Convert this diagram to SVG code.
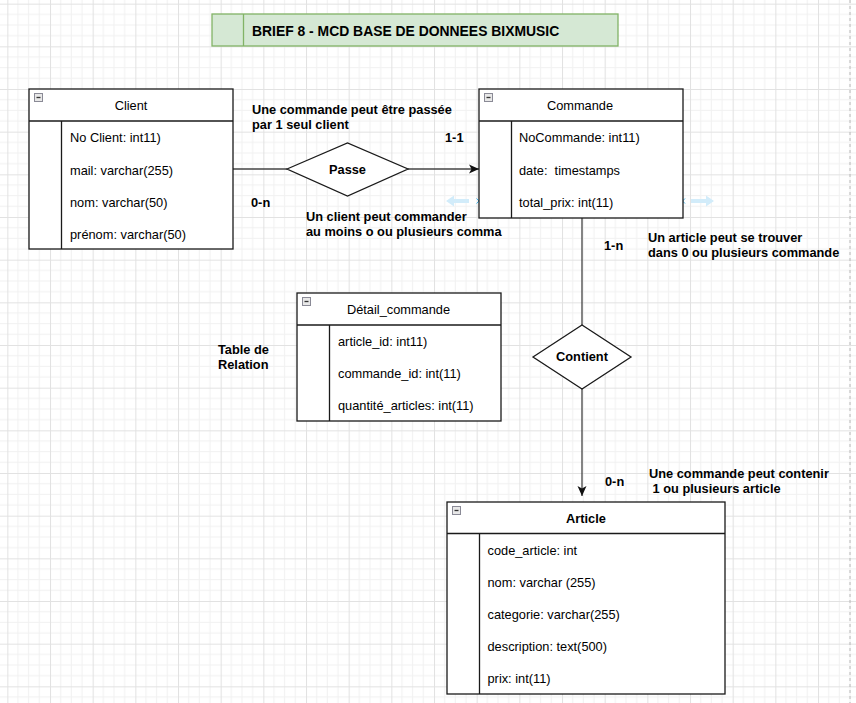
<svg xmlns="http://www.w3.org/2000/svg" width="856" height="703" viewBox="0 0 856 703">
<style>
text{font-family:"Liberation Sans",Arial,sans-serif;font-size:12.8px;fill:#000;white-space:pre}
.b{font-weight:bold}
.c{text-anchor:middle}
.t{font-size:13.9px;font-weight:bold}
.box{fill:#fff;stroke:#1a1a1a;stroke-width:1.3}
.ln{stroke:#1a1a1a;stroke-width:1.3;fill:none}
.con{stroke:#444;stroke-width:1.3;fill:none}
.ico{fill:#e8e8e8;stroke:#8a8a96;stroke-width:1}
.icm{stroke:#333;stroke-width:1.3}
.hint{fill:#d2ecfa}
.x{stroke:#3bb2e8;stroke-width:1}
</style>
<defs>
<pattern id="grid" patternUnits="userSpaceOnUse" x="7.33" y="3.67" width="42.667" height="42.667">
<rect width="42.667" height="42.667" fill="#fff"/>
<path d="M10.667 0V42.667M21.333 0V42.667M32 0V42.667M0 10.667H42.667M0 21.333H42.667M0 32H42.667" stroke="#f1f1f1" stroke-width="1"/>
<path d="M0.5 0V42.667M0 0.5H42.667" stroke="#e2e2e2" stroke-width="1"/>
</pattern>
<marker id="arr" markerUnits="userSpaceOnUse" markerWidth="11" markerHeight="10" refX="10" refY="5" orient="auto">
<path d="M0,0.5 L10,5 L0,9.5 L2.5,5 Z" fill="#111"/>
</marker>
</defs>
<rect width="856" height="703" fill="url(#grid)"/>
<line x1="850" y1="0" x2="850" y2="703" stroke="#b8b8b8" stroke-width="1" stroke-dasharray="3,3"/>

<g id="title">
<rect x="212" y="14" width="406" height="32" fill="#d5e8d4" stroke="#82b366" stroke-width="1.3"/>
<line x1="243.5" y1="14" x2="243.5" y2="46" stroke="#82b366" stroke-width="1.3"/>
<text x="252" y="35.5" class="t">BRIEF 8 - MCD BASE DE DONNEES BIXMUSIC</text>
</g>

<g id="connectors">
<line x1="233" y1="169" x2="287" y2="169" class="con"/>
<line x1="408" y1="169" x2="479" y2="169" class="con" marker-end="url(#arr)"/>
<line x1="582" y1="218" x2="582" y2="325" class="con" stroke="#555"/>
<line x1="582" y1="389" x2="582" y2="496" class="con" marker-end="url(#arr)"/>
</g>

<g id="hints">
<path d="M446,201 L454,195.5 L454,199 L469,199 L469,203 L454,203 L454,206.5 Z" class="hint"/>
<path d="M476.5,198.5 L481.5,203.5 M481.5,198.5 L476.5,203.5" class="x"/>
<path d="M714,201 L706,195.5 L706,199 L691,199 L691,203 L706,203 L706,206.5 Z" class="hint"/>
<path d="M680,198.5 L685,203.5 M685,198.5 L680,203.5" class="x"/>
</g>

<g id="client">
<rect x="29" y="89" width="204" height="160" class="box"/>
<line x1="29" y1="121" x2="233" y2="121" class="ln"/>
<line x1="61.5" y1="121" x2="61.5" y2="249" class="ln"/>
<rect x="34.5" y="93.5" width="8" height="8" class="ico"/>
<line x1="36.5" y1="97.5" x2="40.5" y2="97.5" class="icm"/>
<text x="131" y="110" class="c">Client</text>
<text x="70" y="142">No Client: int11)</text>
<text x="70" y="175">mail: varchar(255)</text>
<text x="70" y="206.5">nom: varchar(50)</text>
<text x="70" y="238.5">prénom: varchar(50)</text>
</g>

<g id="commande">
<rect x="479" y="89" width="204" height="129" class="box"/>
<line x1="479" y1="121" x2="683" y2="121" class="ln"/>
<line x1="511.5" y1="121" x2="511.5" y2="218" class="ln"/>
<rect x="484.5" y="93.5" width="8" height="8" class="ico"/>
<line x1="486.5" y1="97.5" x2="490.5" y2="97.5" class="icm"/>
<text x="580" y="110" class="c">Commande</text>
<text x="519" y="142">NoCommande: int11)</text>
<text x="519" y="175">date:  timestamps</text>
<text x="519" y="207">total_prix: int(11)</text>
</g>

<g id="passe">
<path d="M287,169 L347.5,143 L408,169 L347.5,196 Z" class="box"/>
<text x="347.5" y="173.5" class="c b">Passe</text>
</g>

<g id="contient">
<path d="M533,357 L582,325 L631,357 L582,389 Z" class="box"/>
<text x="582" y="361" class="c b">Contient</text>
</g>

<g id="detail_commande">
<rect x="297" y="293" width="204" height="128" class="box"/>
<line x1="297" y1="325" x2="501" y2="325" class="ln"/>
<line x1="329.5" y1="325" x2="329.5" y2="421" class="ln"/>
<rect x="302.5" y="297.5" width="8" height="8" class="ico"/>
<line x1="304.5" y1="301.5" x2="308.5" y2="301.5" class="icm"/>
<text x="398.5" y="313.5" class="c">Détail_commande</text>
<text x="338" y="346">article_id: int11)</text>
<text x="338" y="378">commande_id: int(11)</text>
<text x="338" y="410">quantité_articles: int(11)</text>
</g>

<g id="article">
<rect x="447" y="502" width="278" height="192" class="box"/>
<line x1="447" y1="533.5" x2="725" y2="533.5" class="ln"/>
<line x1="479.5" y1="533.5" x2="479.5" y2="694" class="ln"/>
<rect x="452.5" y="506.5" width="8" height="8" class="ico"/>
<line x1="454.5" y1="510.5" x2="458.5" y2="510.5" class="icm"/>
<text x="586" y="522.5" class="c b">Article</text>
<text x="487.5" y="554.5">code_article: int</text>
<text x="487.5" y="586.5">nom: varchar (255)</text>
<text x="487.5" y="618.5">categorie: varchar(255)</text>
<text x="487.5" y="650.5">description: text(500)</text>
<text x="487.5" y="682.5">prix: int(11)</text>
</g>

<g id="labels">
<text x="252" y="114" class="b">Une commande peut être passée</text>
<text x="252" y="129" class="b">par 1 seul client</text>
<text x="445" y="142" class="b">1-1</text>
<text x="251" y="207" class="b">0-n</text>
<text x="306" y="221" class="b">Un client peut commander</text>
<text x="306" y="235.5" class="b">au moins o ou plusieurs comma</text>
<text x="604" y="250" class="b">1-n</text>
<text x="648" y="241.5" class="b">Un article peut se trouver</text>
<text x="648" y="256.5" class="b">dans 0 ou plusieurs commande</text>
<text x="218" y="353.5" class="b">Table de</text>
<text x="218" y="368.5" class="b">Relation</text>
<text x="605" y="485.5" class="b">0-n</text>
<text x="649" y="477.5" class="b">Une commande peut contenir</text>
<text x="649" y="492.5" class="b"> 1 ou plusieurs article</text>
</g>
</svg>
